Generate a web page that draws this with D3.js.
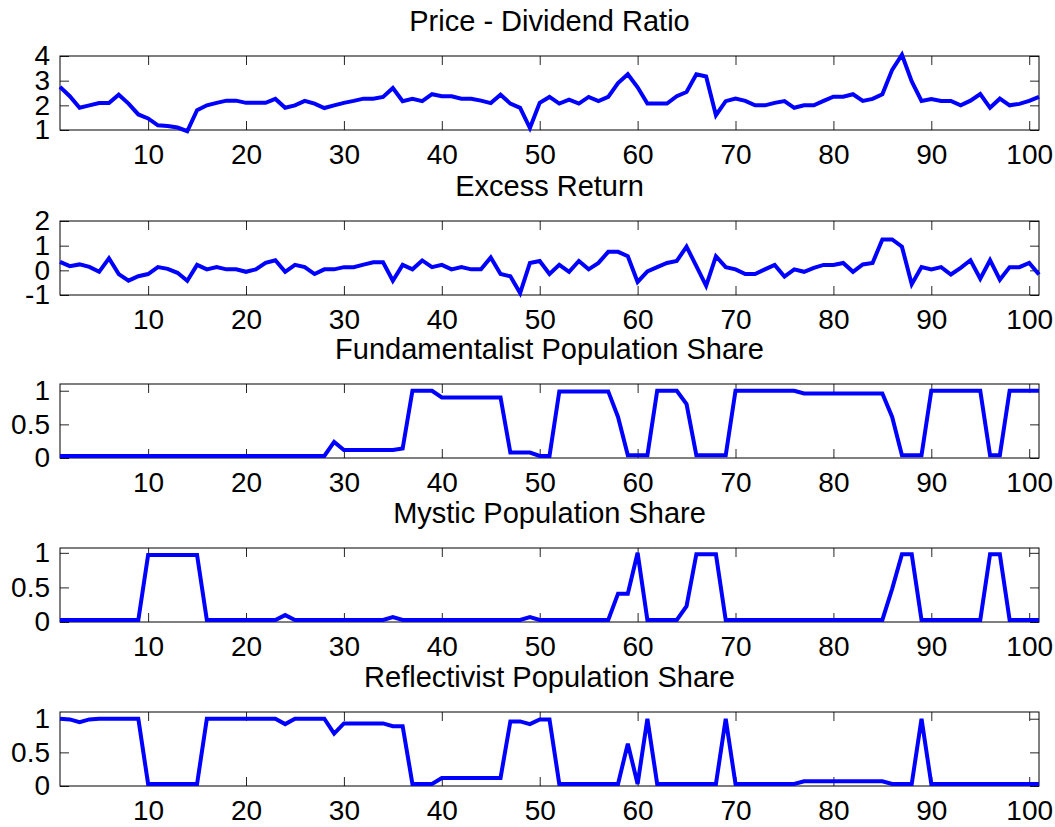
<!DOCTYPE html>
<meta charset="utf-8">
<style>
body { margin: 0; background: #fff; }
.box { fill: none; stroke: #000; stroke-width: 1px; }
.series { fill: none; stroke: #0000ff; stroke-width: 4px; stroke-linejoin: miter; }
.tick line { stroke: #262626; }
.title { font-family: Arial, "Liberation Sans", sans-serif; font-size: 29px; fill: #000; }
</style>
<body>
<script src="https://d3js.org/d3.v7.min.js"></script>
<script>

// panel titles and tick values
var titles = ["Price - Dividend Ratio", "Excess Return", "Fundamentalist Population Share",
              "Mystic Population Share", "Reflectivist Population Share"];
var xTicks = [10, 20, 30, 40, 50, 60, 70, 80, 90, 100];
var yTicks1 = [1, 2, 3, 4];
var yTicks2 = [-1, 0, 1, 2];
var yTicksShare = [0, 0.5, 1];

// series, t = 1..101
var priceDividend = [2.75, 2.37, 1.9, 2.0, 2.09, 2.09, 2.43, 2.07, 1.63, 1.47,
  1.19, 1.16, 1.1, 0.95, 1.8, 2.0, 2.1, 2.19, 2.19, 2.1,
  2.1, 2.1, 2.26, 1.9, 2.0, 2.18, 2.07, 1.89, 2.0, 2.1,
  2.18, 2.27, 2.27, 2.34, 2.7, 2.17, 2.26, 2.17, 2.45, 2.37,
  2.37, 2.27, 2.27, 2.19, 2.09, 2.43, 2.07, 1.9, 1.08, 2.1,
  2.34, 2.07, 2.23, 2.07, 2.34, 2.17, 2.34, 2.9, 3.26, 2.73,
  2.07, 2.07, 2.07, 2.37, 2.54, 3.26, 3.17, 1.6, 2.17, 2.27,
  2.18, 2.0, 2.0, 2.1, 2.17, 1.9, 2.0, 2.0, 2.18, 2.35,
  2.35, 2.45, 2.18, 2.26, 2.45, 3.44, 4.05, 2.97, 2.18, 2.26,
  2.18, 2.18, 2.0, 2.19, 2.46, 1.9, 2.27, 2.0, 2.06, 2.18, 2.34];

var excessReturn = [0.34, 0.17, 0.24, 0.14, -0.06, 0.49, -0.15, -0.42, -0.24, -0.15,
  0.13, 0.06, -0.1, -0.42, 0.22, 0.04, 0.13, 0.04, 0.04, -0.06,
  0.04, 0.3, 0.41, -0.06, 0.22, 0.13, -0.15, 0.04, 0.04, 0.13,
  0.13, 0.23, 0.33, 0.33, -0.42, 0.22, 0.04, 0.4, 0.13, 0.22,
  0.04, 0.13, 0.04, 0.04, 0.52, -0.15, -0.24, -0.92, 0.3, 0.38,
  -0.15, 0.22, -0.06, 0.38, 0.04, 0.3, 0.75, 0.75, 0.57, -0.47,
  -0.04, 0.13, 0.3, 0.38, 0.96, 0.17, -0.63, 0.57, 0.13, 0.04,
  -0.15, -0.15, 0.04, 0.22, -0.25, 0.04, -0.06, 0.1, 0.22, 0.22,
  0.3, -0.06, 0.24, 0.3, 1.25, 1.25, 0.96, -0.56, 0.13, 0.04,
  0.13, -0.17, 0.1, 0.41, -0.34, 0.41, -0.38, 0.13, 0.13, 0.3, -0.17];

var fundamentalist = [0.03, 0.03, 0.03, 0.03, 0.03, 0.03, 0.03, 0.03, 0.03, 0.03,
  0.03, 0.03, 0.03, 0.03, 0.03, 0.03, 0.03, 0.03, 0.03, 0.03,
  0.03, 0.03, 0.03, 0.03, 0.03, 0.03, 0.03, 0.03, 0.24, 0.12,
  0.12, 0.12, 0.12, 0.12, 0.12, 0.14, 1.0, 1.0, 1.0, 0.9,
  0.9, 0.9, 0.9, 0.9, 0.9, 0.9, 0.08, 0.08, 0.08, 0.03,
  0.03, 0.99, 0.99, 0.99, 0.99, 0.99, 0.99, 0.61, 0.04, 0.04,
  0.04, 1.0, 1.0, 1.0, 0.8, 0.04, 0.04, 0.04, 0.04, 1.0,
  1.0, 1.0, 1.0, 1.0, 1.0, 1.0, 0.96, 0.96, 0.96, 0.96,
  0.96, 0.96, 0.96, 0.96, 0.96, 0.61, 0.04, 0.04, 0.04, 1.0,
  1.0, 1.0, 1.0, 1.0, 1.0, 0.04, 0.04, 1.0, 1.0, 1.0, 1.0];

var mystic = [0.03, 0.03, 0.03, 0.03, 0.03, 0.03, 0.03, 0.03, 0.03, 0.97,
  0.97, 0.97, 0.97, 0.97, 0.97, 0.03, 0.03, 0.03, 0.03, 0.03,
  0.03, 0.03, 0.03, 0.1, 0.03, 0.03, 0.03, 0.03, 0.03, 0.03,
  0.03, 0.03, 0.03, 0.03, 0.07, 0.03, 0.03, 0.03, 0.03, 0.03,
  0.03, 0.03, 0.03, 0.03, 0.03, 0.03, 0.03, 0.03, 0.07, 0.03,
  0.03, 0.03, 0.03, 0.03, 0.03, 0.03, 0.03, 0.41, 0.41, 1.0,
  0.03, 0.03, 0.03, 0.03, 0.23, 0.98, 0.98, 0.98, 0.03, 0.03,
  0.03, 0.03, 0.03, 0.03, 0.03, 0.03, 0.03, 0.03, 0.03, 0.03,
  0.03, 0.03, 0.03, 0.03, 0.03, 0.48, 0.98, 0.98, 0.03, 0.03,
  0.03, 0.03, 0.03, 0.03, 0.03, 0.98, 0.98, 0.03, 0.03, 0.03, 0.03];

var reflectivist = [1.0, 0.99, 0.95, 0.99, 1.0, 1.0, 1.0, 1.0, 1.0, 0.03,
  0.03, 0.03, 0.03, 0.03, 0.03, 1.0, 1.0, 1.0, 1.0, 1.0,
  1.0, 1.0, 1.0, 0.92, 1.0, 1.0, 1.0, 1.0, 0.78, 0.93,
  0.93, 0.93, 0.93, 0.93, 0.89, 0.89, 0.03, 0.03, 0.03, 0.12,
  0.12, 0.12, 0.12, 0.12, 0.12, 0.12, 0.96, 0.96, 0.92, 0.99,
  0.99, 0.03, 0.03, 0.03, 0.03, 0.03, 0.03, 0.03, 0.63, 0.03,
  1.0, 0.03, 0.03, 0.03, 0.03, 0.03, 0.03, 0.03, 1.0, 0.03,
  0.03, 0.03, 0.03, 0.03, 0.03, 0.03, 0.07, 0.07, 0.07, 0.07,
  0.07, 0.07, 0.07, 0.07, 0.07, 0.03, 0.03, 0.03, 1.0, 0.03,
  0.03, 0.03, 0.03, 0.03, 0.03, 0.03, 0.03, 0.03, 0.03, 0.03, 0.03];

var panels = [
  {title: titles[0], values: priceDividend, yDomain: [1, 4], yTicks: yTicks1},
  {title: titles[1], values: excessReturn, yDomain: [-1, 2], yTicks: yTicks2},
  {title: titles[2], values: fundamentalist, yDomain: [0, 1.1], yTicks: yTicksShare},
  {title: titles[3], values: mystic, yDomain: [0, 1.07], yTicks: yTicksShare},
  {title: titles[4], values: reflectivist, yDomain: [0, 1.1], yTicks: yTicksShare}
];

var width = 1055,
    height = 827,
    left = 60,
    right = 1039,
    plotH = 74,
    tickLen = 9,
    panelTops = [56, 221, 384, 548, 712];

var svg = d3.select("body").append("svg")
    .attr("width", width)
    .attr("height", height);

var x = d3.scaleLinear()
    .domain([1, 101])
    .range([left, right]);

var fontFamily = "Arial, 'Liberation Sans', sans-serif";

function styleAxis(sel) {
  sel.attr("font-size", 28).attr("font-family", fontFamily);
  sel.select(".domain").remove();
  sel.selectAll(".tick text").attr("fill", "#000");
}

panels.forEach(function(p, k) {
  var g = svg.append("g")
      .attr("transform", "translate(0," + panelTops[k] + ")");

  var y = d3.scaleLinear()
      .domain(p.yDomain)
      .range([plotH, 0]);

  // ticks point inward on all four sides
  g.append("g")
      .attr("transform", "translate(0," + plotH + ")")
      .call(d3.axisBottom(x).tickValues(xTicks).tickSize(-tickLen).tickPadding(14))
      .call(styleAxis);

  g.append("g")
      .call(d3.axisTop(x).tickValues(xTicks).tickSize(-tickLen).tickFormat(""))
      .call(styleAxis);

  g.append("g")
      .attr("transform", "translate(" + left + ",0)")
      .call(d3.axisLeft(y).tickValues(p.yTicks).tickSize(-tickLen).tickPadding(10)
        .tickFormat(function(d) { return String(d); }))
      .call(styleAxis);

  g.append("g")
      .attr("transform", "translate(" + right + ",0)")
      .call(d3.axisRight(y).tickValues(p.yTicks).tickSize(-tickLen).tickFormat(""))
      .call(styleAxis);

  g.append("rect")
      .attr("class", "box")
      .attr("x", left)
      .attr("y", 0)
      .attr("width", right - left)
      .attr("height", plotH);

  var line = d3.line()
      .x(function(d, i) { return x(i + 1); })
      .y(function(d) { return y(d); });

  g.append("path")
      .datum(p.values)
      .attr("class", "series")
      .attr("d", line);

  g.append("text")
      .attr("class", "title")
      .attr("x", (left + right) / 2)
      .attr("y", -25)
      .attr("text-anchor", "middle")
      .text(p.title);
});

</script>
